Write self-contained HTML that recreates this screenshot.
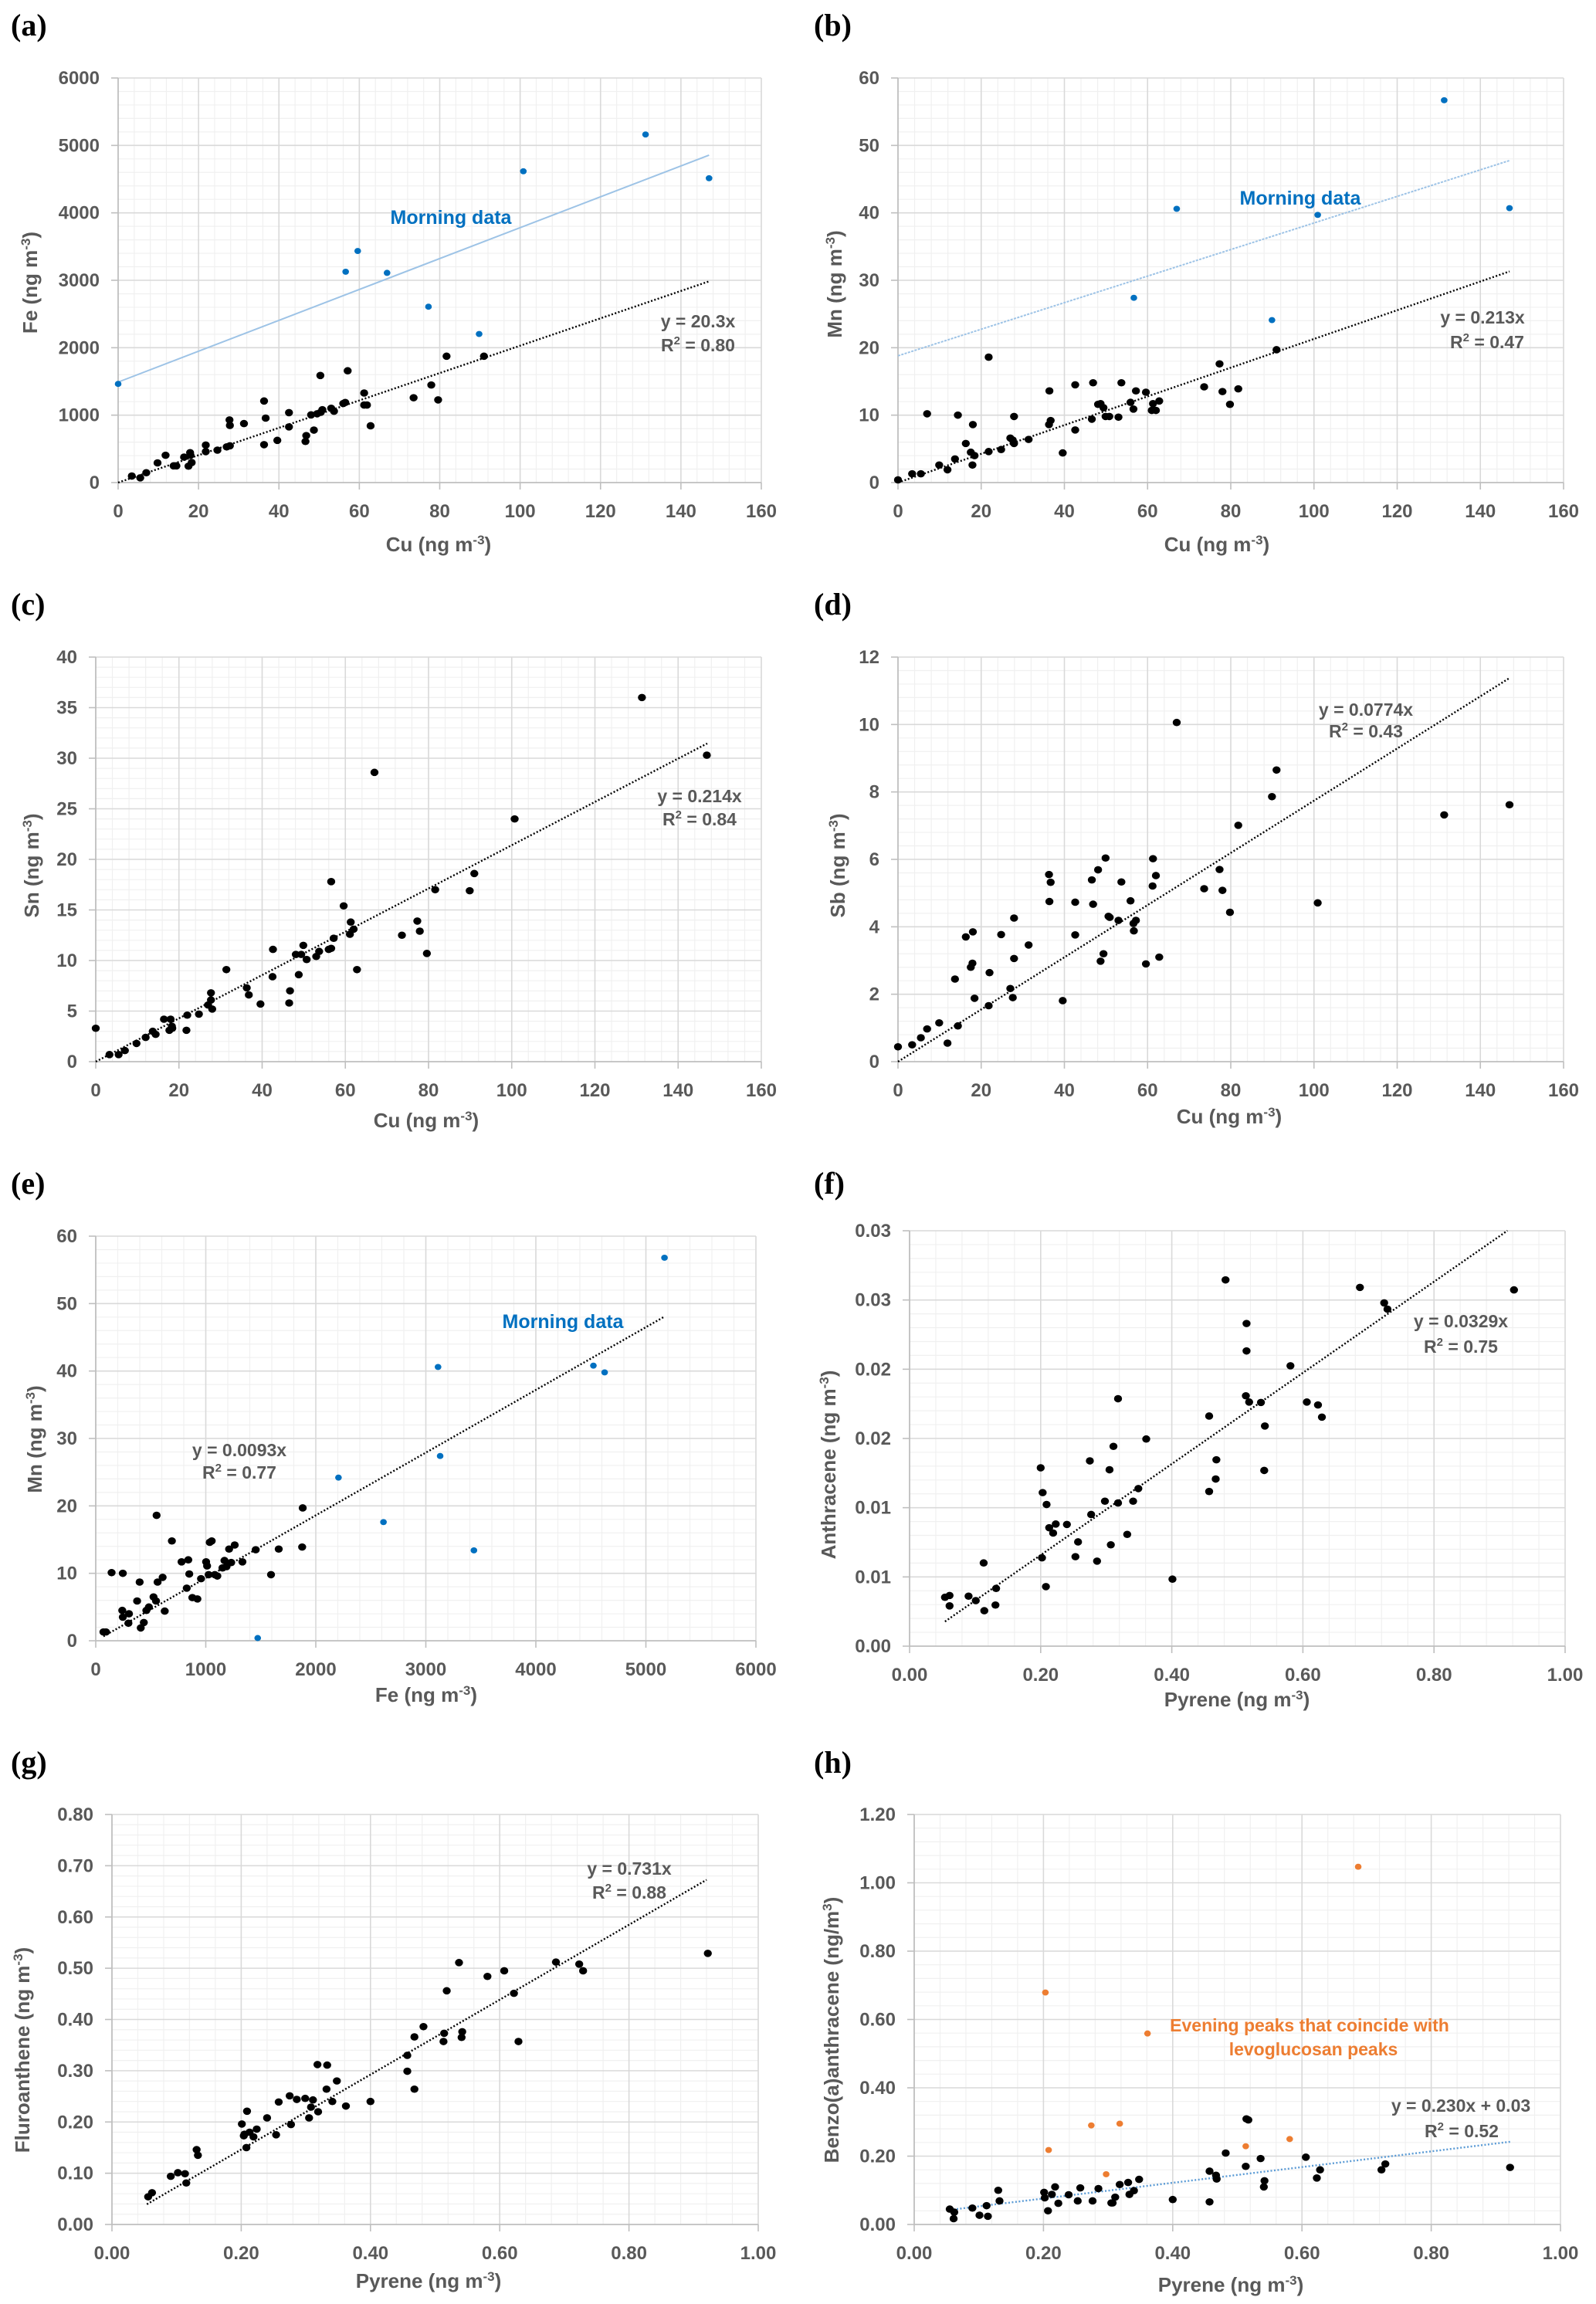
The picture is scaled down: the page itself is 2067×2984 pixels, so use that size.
<!DOCTYPE html>
<html><head><meta charset="utf-8"><title>Scatter panels</title>
<style>
html,body{margin:0;padding:0;background:#fff;}
svg{display:block;}
text{font-family:"Liberation Sans",sans-serif;}
</style></head>
<body>
<svg id="fig" xmlns="http://www.w3.org/2000/svg" width="2067" height="2984" viewBox="0 0 2067 2984"></svg>
<script>
// ---------- Panel (a) Fe vs Cu ----------
const aCu=[3.4,5.5,7,9.8,11.8,13.8,14.5,16.4,17.5,17.9,18,18.3,21.8,21.8,24.7,27,27.7,27.8,27.8,31.3,36.3,36.3,36.7,39.6,42.5,42.5,46.6,46.8,48,48.7,49.5,50.3,50.4,50.8,53,53.7,56,56.5,57.1,61.2,61.2,61.9,62.8,73.5,77.9,79.6,81.7,91];
const aFe=[97,70,146,292,405,248,248,378,243,443,405,297,556,459,481,529,929,848,545,875,1210,562,956,626,1037,826,610,697,1004,778,1020,1588,1042,1080,1102,1058,1172,1188,1658,1328,1150,1150,842,1258,1447,1226,1874,1874];
const aMornCu=[0,56.6,59.6,66.9,77.2,89.8,100.8,131.2,147];
const aMornFe=[1463,3127,3434,3110,2608,2203,4617,5162,4514];
const aTrend=[20.3,0];       // slope, intercept
const aMornTrend=[22.9,1490];
// ---------- Panel (b) Mn vs Cu ----------
const bCu=[0,3.4,5.5,7,9.9,11.9,13.7,14.4,16.3,17.5,17.9,18,18.4,21.8,21.8,24.8,27,27.6,27.9,27.9,31.4,36.3,36.4,36.7,39.6,42.6,42.6,46.6,46.9,48.1,48.7,49.4,49.9,50.8,53,53.7,55.9,56.6,57.2,59.6,61,61.3,62,62.8,73.6,77.3,78,79.8,81.8,91];
const bMn=[0.4,1.3,1.3,10.2,2.6,1.9,3.5,10,5.8,4.5,2.6,8.6,4,18.6,4.6,4.9,6.6,6.3,5.8,9.8,6.4,8.6,13.6,9.2,4.4,7.8,14.5,9.4,14.8,11.6,11.7,11.1,9.8,9.8,9.7,14.8,11.9,10.9,13.6,13.4,10.7,11.7,10.7,12.1,14.2,17.6,13.5,11.6,13.9,19.7];
const bMornCu=[56.7,67,89.9,100.9,131.3,147];
const bMornMn=[27.4,40.6,24.1,39.7,56.7,40.7];
const bTrend=[0.213,0];
const bMornTrend=[0.197,18.8];
// ---------- Panel (c) Sn vs Cu ----------
const cCu=[0,3.3,5.5,7,9.8,12,13.7,14.4,16.4,17.7,18,18.3,18.4,22,21.8,24.8,27,27.7,27.7,28,31.4,36.3,36.8,39.6,42.6,42.5,46.5,46.7,48.1,48.8,49.4,49.9,50.7,53,53.7,56,56.6,56.6,57.2,59.6,61.1,61.3,62,62.8,67,73.6,77.3,77.9,79.6,81.6,89.9,91,100.7,131.3,146.9];
const cSn=[3.3,0.7,0.7,1.1,1.8,2.4,3,2.7,4.2,3.1,4.2,3.5,3.3,4.6,3.1,4.7,5.6,6.1,6.8,5.2,9.1,7.3,6.6,5.7,11.1,8.4,5.8,7,10.6,8.6,10.6,11.5,10.1,10.4,10.9,11.1,11.2,17.8,12.2,15.4,12.6,13.8,13.1,9.1,28.6,12.5,13.9,12.9,10.7,17,16.9,18.6,24,36,30.3];
const cTrend=[0.214,0];
// ---------- Panel (d) Sb vs Cu ----------
const dCu=[0,3.4,5.5,7,9.9,11.9,13.7,14.4,16.3,17.5,17.9,18,18.4,21.8,22,24.8,27,27.6,27.9,27.9,31.4,36.3,36.4,36.7,39.6,42.6,42.6,46.6,46.9,48.1,48.7,49.4,49.9,50.6,50.9,53,53.7,55.9,56.6,56.7,57.2,59.6,61.2,61.3,62,62.8,67,73.6,77.3,78,79.8,81.8,89.9,91,100.9,131.3,147];
const dSb=[0.44,0.5,0.71,0.97,1.15,0.55,2.45,1.06,3.7,2.8,2.92,3.85,1.88,1.66,2.64,3.77,2.17,1.9,4.26,3.06,3.46,5.55,4.75,5.32,1.81,3.76,4.73,5.39,4.67,5.69,2.98,3.2,6.04,4.31,4.28,4.19,5.33,4.77,4.1,3.88,4.19,2.9,5.21,6.02,5.52,3.1,10.06,5.13,5.7,5.08,4.43,7.01,7.86,8.65,4.71,7.32,7.62];
const dTrend=[0.0774,0];
// ---------- Panel (e) Mn vs Fe ----------
const eFe=[70,93,144,246,241,246,297,302,376,399,409,437,460,483,525,548,553,562,608,627,692,780,827,841,850,878,924,957,1003,1012,1026,1036,1054,1082,1105,1152,1170,1189,1212,1231,1263,1333,1454,1593,1663,1876,1881];
const eMn=[1.3,1.3,10.1,10,4.5,3.5,2.6,4,5.9,8.7,1.9,2.7,4.5,5,6.5,5.9,18.6,8.7,9.4,4.4,14.8,11.7,7.8,12,9.9,6.4,6.2,9.2,11.7,11.1,9.8,14.6,14.8,9.8,9.6,10.8,11.9,11,13.6,11.6,14.2,11.7,13.5,9.8,13.6,13.9,19.7];
const eMornFe=[1472,2206,2615,3111,3130,3437,4523,4625,5169];
const eMornMn=[0.4,24.2,17.6,40.6,27.4,13.4,40.8,39.8,56.8];
const eTrend=[0.0093,0];
// ---------- Panel (f) Anthracene vs Pyrene ----------
const fPyr=[0.054,0.061,0.061,0.090,0.101,0.113,0.114,0.131,0.132,0.200,0.202,0.203,0.208,0.209,0.213,0.219,0.223,0.240,0.253,0.257,0.275,0.277,0.286,0.298,0.305,0.307,0.311,0.318,0.318,0.332,0.341,0.349,0.361,0.401,0.457,0.457,0.467,0.468,0.482,0.513,0.514,0.514,0.518,0.536,0.541,0.542,0.581,0.606,0.623,0.629,0.687,0.724,0.729,0.922];
const fAnt=[0.00353,0.00366,0.00291,0.00361,0.00329,0.00601,0.00256,0.00297,0.00417,0.01288,0.00638,0.01109,0.0043,0.01023,0.00855,0.00817,0.00882,0.00879,0.00646,0.00753,0.01338,0.00951,0.00614,0.01047,0.01274,0.00732,0.01443,0.01787,0.01034,0.00807,0.01047,0.01138,0.01496,0.00484,0.01662,0.01117,0.01207,0.01346,0.02645,0.01808,0.02132,0.0233,0.01763,0.0176,0.01269,0.0159,0.02025,0.01763,0.01742,0.01654,0.02591,0.02479,0.02434,0.02573];
const fTrend=[0.0329,0];
const fYLabels=["0.00","0.01","0.01","0.02","0.02","0.03","0.03"];
// ---------- Panel (g) Fluoranthene vs Pyrene ----------
const gPyr=[0.056,0.062,0.091,0.102,0.113,0.115,0.131,0.133,0.201,0.204,0.205,0.208,0.209,0.213,0.219,0.224,0.240,0.254,0.258,0.275,0.277,0.286,0.299,0.305,0.308,0.311,0.318,0.319,0.332,0.333,0.341,0.348,0.362,0.400,0.457,0.457,0.468,0.468,0.482,0.513,0.514,0.518,0.537,0.541,0.542,0.581,0.607,0.622,0.629,0.687,0.723,0.729,0.922];
const gFlu=[0.054,0.062,0.094,0.101,0.099,0.081,0.146,0.135,0.196,0.173,0.176,0.150,0.221,0.180,0.171,0.186,0.208,0.175,0.239,0.251,0.195,0.244,0.246,0.208,0.229,0.243,0.312,0.220,0.264,0.311,0.240,0.280,0.231,0.240,0.330,0.299,0.264,0.366,0.386,0.357,0.373,0.456,0.511,0.365,0.376,0.484,0.495,0.451,0.357,0.512,0.508,0.495,0.529];
const gTrend=[0.731,0];
// ---------- Panel (h) Benzo(a)anthracene vs Pyrene ----------
const hPyr=[0.055,0.062,0.061,0.090,0.101,0.112,0.114,0.130,0.132,0.201,0.202,0.207,0.213,0.218,0.223,0.239,0.253,0.257,0.276,0.285,0.305,0.307,0.311,0.318,0.331,0.333,0.340,0.348,0.400,0.457,0.457,0.467,0.468,0.482,0.513,0.514,0.517,0.536,0.541,0.542,0.606,0.623,0.628,0.723,0.729,0.922];
const hBaa=[0.045,0.036,0.017,0.048,0.027,0.055,0.024,0.1,0.069,0.094,0.078,0.04,0.088,0.11,0.062,0.087,0.069,0.107,0.069,0.105,0.063,0.063,0.08,0.117,0.123,0.088,0.099,0.132,0.073,0.156,0.066,0.144,0.133,0.209,0.170,0.309,0.306,0.193,0.11,0.128,0.197,0.136,0.16,0.16,0.177,0.167];
const hEvePyr=[0.203,0.208,0.274,0.297,0.318,0.361,0.513,0.581,0.687];
const hEveBaa=[0.679,0.218,0.29,0.147,0.295,0.559,0.229,0.250,1.047];
const hTrend=[0.230,0.03];

const NS="http://www.w3.org/2000/svg";
const svg=document.getElementById('fig');
function mk(tag,attrs,parent){const e=document.createElementNS(NS,tag);for(const k in attrs)e.setAttribute(k,attrs[k]);(parent||svg).appendChild(e);return e;}
const GRAY="#595959";

function panel(c){
  const g=mk('g',{});
  
  
  const sx=v=>c.L+(v-c.xmin)/(c.xmax-c.xmin)*(c.R-c.L);
  const sy=v=>c.B-(v-c.ymin)/(c.ymax-c.ymin)*(c.B-c.T);
  const nx=Math.round((c.xmax-c.xmin)/c.xstep), ny=Math.round((c.ymax-c.ymin)/c.ystep);
  for(let i=0;i<nx*5;i++){const x=c.L+(c.R-c.L)*i/(nx*5);if(i%5===0)continue;
    const l=mk('line',{x1:x,x2:x,y1:c.T,y2:c.B,stroke:'#f0f0f0','stroke-width':1.2},g);
    
    }
  for(let i=0;i<ny*5;i++){const y=c.B-(c.B-c.T)*i/(ny*5);if(i%5===0)continue;
    const l=mk('line',{x1:c.L,x2:c.R,y1:y,y2:y,stroke:'#f0f0f0','stroke-width':1.2},g);
    
    }
  for(let i=0;i<=nx;i++){const v=c.xmin+i*c.xstep,x=sx(v);
    if(i>0){const l=mk('line',{x1:x,x2:x,y1:c.T,y2:c.B,stroke:'#d9d9d9','stroke-width':1.6},g);
      
      }
    const tk=mk('line',{x1:x,x2:x,y1:c.B,y2:c.B+9,stroke:'#bfbfbf','stroke-width':1.6},g);
    
    
    const t=mk('text',{x:x,y:c.B+45,'text-anchor':'middle','font-size':24,'font-weight':'bold',fill:GRAY},g);
    t.textContent=c.xfmt(v);
    
    }
  for(let i=0;i<=ny;i++){const v=c.ymin+i*c.ystep,y=sy(v);
    if(i>0){const l=mk('line',{x1:c.L,x2:c.R,y1:y,y2:y,stroke:'#d9d9d9','stroke-width':1.6},g);
      
      }
    const tk=mk('line',{x1:c.L-9,x2:c.L,y1:y,y2:y,stroke:'#bfbfbf','stroke-width':1.6},g);
    
    
    const t=mk('text',{x:c.L-24,y:y+8,'text-anchor':'end','font-size':24,'font-weight':'bold',fill:GRAY},g);
    t.textContent=c.ylabels?c.ylabels[i]:c.yfmt(v);
    
    }
  const ax=mk('line',{x1:c.L,x2:c.R,y1:c.B,y2:c.B,stroke:'#bfbfbf','stroke-width':1.8},g);
  
  
  const ay=mk('line',{x1:c.L,x2:c.L,y1:c.T,y2:c.B,stroke:'#bfbfbf','stroke-width':1.8},g);
  
  
  (c.trends||[]).forEach(tr=>{
    const ln=mk('line',{x1:sx(tr.x0),y1:sy(tr.coef[0]*tr.x0+tr.coef[1]),x2:sx(tr.x1),y2:sy(tr.coef[0]*tr.x1+tr.coef[1]),stroke:tr.color,'stroke-width':tr.w||2.4,'stroke-dasharray':tr.dash||'none'},g);
    
    });
  c.series.forEach(s=>{
    s.x.forEach((xv,i)=>{
      const p=mk('ellipse',{cx:sx(xv),cy:sy(s.y[i]),rx:s.r,ry:s.r*0.92,fill:s.color},g);
      
      });});
  const xt=mk('text',{x:c.xtx,y:c.xty,'text-anchor':'middle','font-size':26,'font-weight':'bold',fill:GRAY},g);
  xt.innerHTML=c.xtitle;
  
  
  const yt=mk('text',{x:0,y:0,'text-anchor':'middle','font-size':26,'font-weight':'bold',fill:GRAY,transform:`translate(${c.ytx},${c.yty}) rotate(-90)`},g);
  yt.innerHTML=c.ytitle;
  
  
  const lb=mk('text',{x:c.lbx,y:c.lby,'font-size':40,'font-weight':'bold',fill:'#000',style:'font-family:"Liberation Serif",serif'},g);
  lb.textContent='('+c.id+')';
  
  
  (c.notes||[]).forEach(n=>{
    const t=mk('text',{x:n.x,y:n.y,'text-anchor':n.anchor||'middle','font-size':n.size||23,'font-weight':'bold',fill:n.color||GRAY},g);
    t.innerHTML=n.t;
    
    });
}
const unit=' (ng m<tspan dy="-9" font-size="17">-3</tspan><tspan dy="9">)</tspan>';
const f0=v=>String(Math.round(v)), f2=v=>v.toFixed(2);
const BLUE='#0070c0', ORANGE='#ed7d31';
const r2='R<tspan dy="-9" font-size="15">2</tspan><tspan dy="9"> = </tspan>';

panel({id:'a',L:153,R:986,T:101,B:625,xmin:0,xmax:160,xstep:20,ymin:0,ymax:6000,ystep:1000,xfmt:f0,yfmt:f0,
  series:[{x:aCu,y:aFe,color:'#000',r:5.2,name:'fe-cu-point'},{x:aMornCu,y:aMornFe,color:BLUE,r:4.3,name:'morning-point'}],
  trends:[{x0:0,x1:147,coef:aMornTrend,color:'#9dc3e6',w:2,name:'morning-trendline'},{x0:0,x1:147,coef:aTrend,color:'#000',dash:'2 2.5',name:'trendline'}],
  xtitle:'Cu'+unit,xtx:568,xty:714,ytitle:'Fe'+unit,ytx:48,yty:366,lbx:14,lby:46,
  notes:[{t:'Morning data',x:584,y:290,color:BLUE,size:25,name:'morning-annotation'},{t:'y = 20.3x',x:904,y:424,name:'equation'},{t:r2+'0.80',x:904,y:455,name:'r-squared'}]});
panel({id:'b',L:1163,R:2025,T:101,B:625,xmin:0,xmax:160,xstep:20,ymin:0,ymax:60,ystep:10,xfmt:f0,yfmt:f0,
  series:[{x:bCu,y:bMn,color:'#000',r:5.2,name:'mn-cu-point'},{x:bMornCu,y:bMornMn,color:BLUE,r:4.3,name:'morning-point'}],
  trends:[{x0:0,x1:147,coef:bMornTrend,color:'#9dc3e6',w:2,dash:'3 1.5',name:'morning-trendline'},{x0:0,x1:147,coef:bTrend,color:'#000',dash:'2 2.5',name:'trendline'}],
  xtitle:'Cu'+unit,xtx:1576,xty:714,ytitle:'Mn'+unit,ytx:1090,yty:368,lbx:1054,lby:46,
  notes:[{t:'Morning data',x:1684,y:265,color:BLUE,size:25,name:'morning-annotation'},{t:'y = 0.213x',x:1920,y:419,name:'equation'},{t:r2+'0.47',x:1926,y:451,name:'r-squared'}]});
panel({id:'c',L:124,R:986,T:851,B:1375,xmin:0,xmax:160,xstep:20,ymin:0,ymax:40,ystep:5,xfmt:f0,yfmt:f0,
  series:[{x:cCu,y:cSn,color:'#000',r:5.2,name:'sn-cu-point'}],
  trends:[{x0:0,x1:147,coef:cTrend,color:'#000',dash:'2 2.5',name:'trendline'}],
  xtitle:'Cu'+unit,xtx:552,xty:1460,ytitle:'Sn'+unit,ytx:50,yty:1121,lbx:14,lby:796,
  notes:[{t:'y = 0.214x',x:906,y:1039,name:'equation'},{t:r2+'0.84',x:906,y:1069,name:'r-squared'}]});
panel({id:'d',L:1163,R:2025,T:851,B:1375,xmin:0,xmax:160,xstep:20,ymin:0,ymax:12,ystep:2,xfmt:f0,yfmt:f0,
  series:[{x:dCu,y:dSb,color:'#000',r:5.2,name:'sb-cu-point'}],
  trends:[{x0:0,x1:147,coef:dTrend,color:'#000',dash:'2 2.5',name:'trendline'}],
  xtitle:'Cu'+unit,xtx:1592,xty:1455,ytitle:'Sb'+unit,ytx:1094,yty:1121,lbx:1054,lby:796,
  notes:[{t:'y = 0.0774x',x:1769,y:927,name:'equation'},{t:r2+'0.43',x:1769,y:955,name:'r-squared'}]});
panel({id:'e',L:124,R:979,T:1601,B:2125,xmin:0,xmax:6000,xstep:1000,ymin:0,ymax:60,ystep:10,xfmt:f0,yfmt:f0,
  series:[{x:eFe,y:eMn,color:'#000',r:5.2,name:'mn-fe-point'},{x:eMornFe,y:eMornMn,color:BLUE,r:4.3,name:'morning-point'}],
  trends:[{x0:70,x1:5169,coef:eTrend,color:'#000',dash:'2 2.5',name:'trendline'}],
  xtitle:'Fe'+unit,xtx:552,xty:2204,ytitle:'Mn'+unit,ytx:54,yty:1864,lbx:14,lby:1546,
  notes:[{t:'Morning data',x:729,y:1720,color:BLUE,size:25,name:'morning-annotation'},{t:'y = 0.0093x',x:310,y:1886,name:'equation'},{t:r2+'0.77',x:310,y:1915,name:'r-squared'}]});
panel({id:'f',L:1178,R:2027,T:1594,B:2132,xmin:0,xmax:1,xstep:0.2,ymin:0,ymax:0.03,ystep:0.005,xfmt:f2,ylabels:fYLabels,
  series:[{x:fPyr,y:fAnt,color:'#000',r:5.2,name:'anthracene-point'}],
  trends:[{x0:0.054,x1:0.912,coef:fTrend,color:'#000',dash:'2 2.5',name:'trendline'}],
  xtitle:'Pyrene'+unit,xtx:1602,xty:2210,ytitle:'Anthracene'+unit,ytx:1082,yty:1897,lbx:1054,lby:1546,
  notes:[{t:'y = 0.0329x',x:1892,y:1719,name:'equation'},{t:r2+'0.75',x:1892,y:1752,name:'r-squared'}]});
panel({id:'g',L:145,R:982,T:2350,B:2881,xmin:0,xmax:1,xstep:0.2,ymin:0,ymax:0.8,ystep:0.1,xfmt:f2,yfmt:f2,
  series:[{x:gPyr,y:gFlu,color:'#000',r:5.2,name:'fluoranthene-point'}],
  trends:[{x0:0.054,x1:0.92,coef:gTrend,color:'#000',dash:'2 2.5',name:'trendline'}],
  xtitle:'Pyrene'+unit,xtx:555,xty:2963,ytitle:'Fluroanthene'+unit,ytx:38,yty:2655,lbx:14,lby:2296,
  notes:[{t:'y = 0.731x',x:815,y:2428,name:'equation'},{t:r2+'0.88',x:815,y:2459,name:'r-squared'}]});
panel({id:'h',L:1184,R:2021,T:2350,B:2881,xmin:0,xmax:1,xstep:0.2,ymin:0,ymax:1.2,ystep:0.2,xfmt:f2,yfmt:f2,
  series:[{x:hPyr,y:hBaa,color:'#000',r:5.2,name:'benzoanthracene-point'},{x:hEvePyr,y:hEveBaa,color:ORANGE,r:4.3,name:'evening-peak-point'}],
  trends:[{x0:0.055,x1:0.922,coef:hTrend,color:'#5b9bd5',dash:'2 2.5',name:'trendline'}],
  xtitle:'Pyrene'+unit,xtx:1594,xty:2968,ytitle:'Benzo(a)anthracene (ng/m<tspan dy="-9" font-size="17">3</tspan><tspan dy="9">)</tspan>',ytx:1086,yty:2629,lbx:1054,lby:2296,
  notes:[{t:'Evening peaks that coincide with',x:1696,y:2631,color:ORANGE,size:23,name:'evening-annotation'},{t:'levoglucosan peaks',x:1701,y:2662,color:ORANGE,size:23,name:'evening-annotation-line2'},{t:'y = 0.230x + 0.03',x:1892,y:2735,name:'equation'},{t:r2+'0.52',x:1893,y:2768,name:'r-squared'}]});
</script>
</body></html>
